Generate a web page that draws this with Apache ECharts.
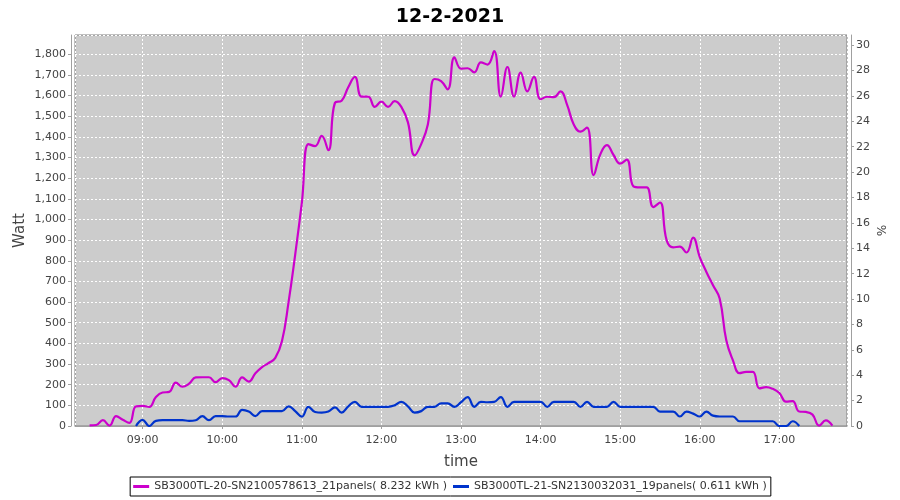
<!DOCTYPE html>
<html>
<head>
<meta charset="utf-8">
<script src="https://cdn.jsdelivr.net/npm/echarts@6/dist/echarts.min.js"></script>
<style>
  html, body { margin: 0; padding: 0; background: #ffffff; }
  #chart { width: 900px; height: 500px; }
</style>
</head>
<body>
<div id="chart"></div>
<script>
const chartTitle = "12-2-2021";
const seriesNames = [
  "SB3000TL-20-SN2100578613_21panels( 8.232 kWh )",
  "SB3000TL-21-SN2130032031_19panels( 0.611 kWh )"
];
const times = [
  "08:20","08:25","08:30","08:35","08:40","08:45","08:50","08:55",
  "09:00","09:05","09:10","09:15","09:20","09:25","09:30","09:35","09:40","09:45","09:50","09:55",
  "10:00","10:05","10:10","10:15","10:20","10:25","10:30","10:35","10:40","10:45","10:50","10:55",
  "11:00","11:05","11:10","11:15","11:20","11:25","11:30","11:35","11:40","11:45","11:50","11:55",
  "12:00","12:05","12:10","12:15","12:20","12:25","12:30","12:35","12:40","12:45","12:50","12:55",
  "13:00","13:05","13:10","13:15","13:20","13:25","13:30","13:35","13:40","13:45","13:50","13:55",
  "14:00","14:05","14:10","14:15","14:20","14:25","14:30","14:35","14:40","14:45","14:50","14:55",
  "15:00","15:05","15:10","15:15","15:20","15:25","15:30","15:35","15:40","15:45","15:50","15:55",
  "16:00","16:05","16:10","16:15","16:20","16:25","16:30","16:35","16:40","16:45","16:50","16:55",
  "17:00","17:05","17:10","17:15","17:20","17:25","17:30","17:35","17:40"
];
const inverter20Watt = [
  3,5,28,2,48,30,15,95,
  97,92,140,162,165,210,190,205,235,236,236,212,
  232,222,190,235,215,255,285,305,330,410,600,830,
  1080,1365,1355,1405,1335,1565,1575,1640,1690,1595,1595,1545,
  1570,1545,1573,1545,1470,1310,1365,1460,1680,1670,1630,1785,
  1730,1732,1712,1760,1750,1815,1595,1738,1595,1711,1620,1690,
  1582,1594,1592,1620,1555,1460,1425,1445,1215,1315,1360,1312,
  1270,1290,1160,1155,1155,1060,1082,900,865,868,840,912,
  818,746,681,617,415,318,256,262,262,182,188,180,
  160,118,120,70,68,55,2,27,2
];
const inverter21Watt = [
  null,null,null,null,null,null,null,0,
  30,0,25,28,28,28,28,25,28,48,28,48,
  48,46,46,78,70,48,72,72,72,72,95,72,
  45,93,68,65,70,90,65,95,117,93,93,93,
  93,93,100,117,95,65,72,93,93,110,110,93,
  115,140,93,117,115,117,140,93,117,117,117,117,
  117,93,117,117,117,117,93,117,93,93,93,117,
  93,93,93,93,93,93,70,70,70,46,70,60,
  46,70,50,46,46,46,23,23,23,23,23,23,
  0,0,23,0,null,null,null,null,null
];
const axisStartTime = "08:09";
const axisEndTime = "17:51";
const leftAxisName = "Watt";
const rightAxisName = "%";
const xAxisName = "time";

function ts(hhmm) {
  const p = hhmm.split(":");
  return new Date(2021, 1, 12, +p[0], +p[1]).getTime();
}
function pad(n) { return (n < 10 ? "0" : "") + n; }

const s1 = times.map((t, i) => [ts(t), inverter20Watt[i]]);
const s2 = times.map((t, i) => [ts(t), inverter21Watt[i]]);

const font = "DejaVu Sans";
const chart = echarts.init(document.getElementById("chart"), null, { renderer: "canvas" });
chart.setOption({
  animation: false,
  backgroundColor: "#ffffff",
  title: {
    text: chartTitle,
    left: "center",
    top: 3,
    textStyle: { fontFamily: font, fontSize: 19, fontWeight: "bold", color: "#000" }
  },
  grid: {
    left: 75, right: 53, top: 35, bottom: 74,
    show: true, backgroundColor: "#cccccc", borderColor: "#808080", borderWidth: 1
  },
  legend: {
    left: "center",
    top: 477,
    data: seriesNames,
    icon: "rect",
    itemWidth: 16,
    itemHeight: 3,
    itemGap: 6,
    padding: [4, 4, 4, 3],
    borderColor: "#000",
    borderWidth: 1,
    textStyle: { fontFamily: font, fontSize: 11, color: "#333" }
  },
  xAxis: {
    type: "time",
    min: ts(axisStartTime),
    max: ts(axisEndTime),
    minInterval: 3600000,
    maxInterval: 3600000,
    offset: 4,
    name: xAxisName,
    nameLocation: "middle",
    nameGap: 25,
    nameMoveOverlap: false,
    nameTextStyle: { fontFamily: font, fontSize: 15, color: "#444" },
    axisLine: { show: true, lineStyle: { color: "#a0a0a0" } },
    axisTick: { show: true, length: 3, lineStyle: { color: "#a0a0a0" } },
    axisLabel: {
      fontFamily: font, fontSize: 11, color: "#444", margin: 5,
      showMinLabel: false, showMaxLabel: false,
      formatter: function (v) { const d = new Date(v); return pad(d.getHours()) + ":" + pad(d.getMinutes()); }
    },
    splitLine: { show: true, lineStyle: { color: "#ffffff", type: [2, 2], width: 1 } }
  },
  yAxis: [
    {
      type: "value",
      min: 0, max: 1893, interval: 100,
      offset: 4,
      name: leftAxisName,
      nameLocation: "middle",
      nameGap: 43,
      nameMoveOverlap: false,
      nameTextStyle: { fontFamily: font, fontSize: 15, color: "#444" },
      axisLine: { show: true, lineStyle: { color: "#a0a0a0" } },
      axisTick: { show: true, length: 3, lineStyle: { color: "#a0a0a0" } },
      axisLabel: {
        fontFamily: font, fontSize: 11, color: "#444", margin: 5, showMaxLabel: false,
        formatter: function (v) { return v.toLocaleString("en-US"); }
      },
      splitLine: { show: true, lineStyle: { color: "#ffffff", type: [2, 2], width: 1 } }
    },
    {
      type: "value",
      position: "right",
      min: 0, max: 30.8, interval: 2,
      offset: 4,
      name: rightAxisName,
      nameLocation: "middle",
      nameGap: 23,
      nameRotate: -90,
      nameMoveOverlap: false,
      nameTextStyle: { fontFamily: font, fontSize: 12, color: "#444" },
      axisLine: { show: true, lineStyle: { color: "#a0a0a0" } },
      axisTick: { show: true, length: 3, lineStyle: { color: "#a0a0a0" } },
      axisLabel: { fontFamily: font, fontSize: 11, color: "#444", margin: 5, showMaxLabel: false },
      splitLine: { show: false }
    }
  ],
  series: [
    {
      name: seriesNames[0], type: "line", data: s1, yAxisIndex: 0,
      smooth: 0.45, showSymbol: false, color: "#cc00cc",
      lineStyle: { width: 2.2, color: "#cc00cc" }
    },
    {
      name: seriesNames[1], type: "line", data: s2, yAxisIndex: 0,
      smooth: 0.45, showSymbol: false, color: "#0033cc", connectNulls: false,
      lineStyle: { width: 2.2, color: "#0033cc" }
    }
  ]
});
</script>
</body>
</html>
